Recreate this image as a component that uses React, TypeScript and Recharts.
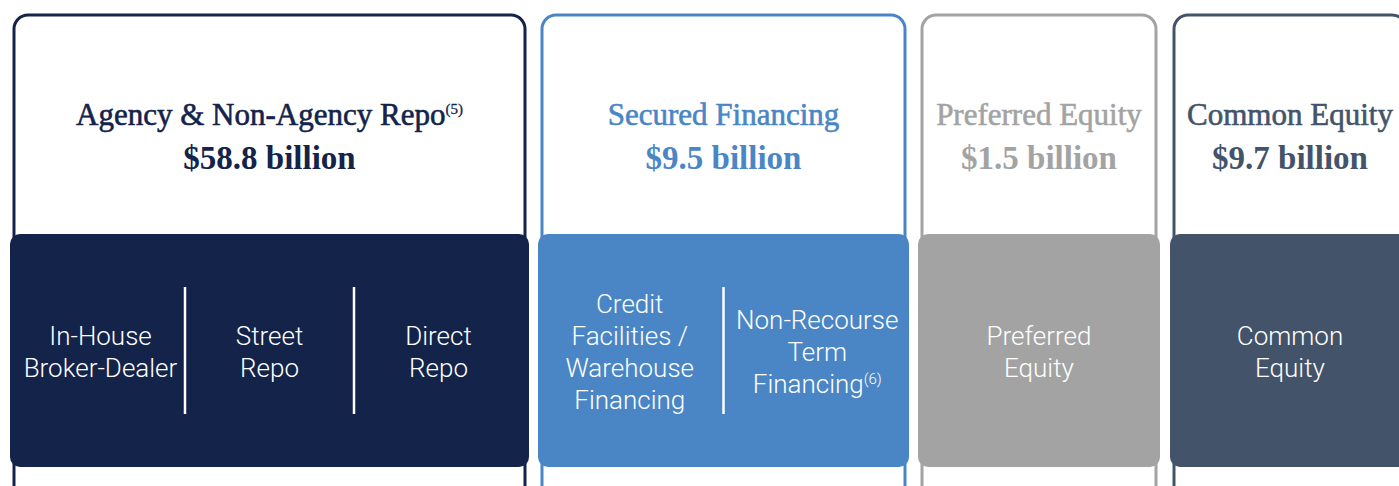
import { ComposedChart, Scatter, XAxis, YAxis } from "recharts";

// funding sources, amounts in $ billions
const segments = [
	"Agency & Non-Agency Repo",
	"Secured Financing",
	"Preferred Equity",
	"Common Equity",
];
const amounts = [58.8, 9.5, 1.5, 9.7];
const segmentNotes = ["(5)", "", "", ""];

// sub-channels shown in each filled box (one entry per line)
const channels: string[][][] = [
	[
		["In-House", "Broker-Dealer"],
		["Street", "Repo"],
		["Direct", "Repo"],
	],
	[
		["Credit", "Facilities /", "Warehouse", "Financing"],
		["Non-Recourse", "Term", "Financing"],
	],
	[["Preferred", "Equity"]],
	[["Common", "Equity"]],
];
const channelNotes: string[][] = [["", "", ""], ["", "(6)"], [""], [""]];

const colors = ["#13234a", "#4a86c5", "#a3a3a3", "#43546a"];

// layout
const W = 1399;
const H = 486;
const panelEdges = [
	[14, 525],
	[542, 905],
	[922, 1156],
	[1174, 1406],
];
const colInset = [6, -2, 0, 0];
const PANEL_TOP = 15;
const BOX_TOP = 234;
const BOX_BOTTOM = 467;
const BOX_OUT = 4;
const LINE_H = 32;

const data = segments.map((name, i) => ({
	idx: i,
	name,
	amount: amounts[i],
	x: (panelEdges[i][0] + panelEdges[i][1]) / 2,
	top: PANEL_TOP,
	w: panelEdges[i][1] - panelEdges[i][0],
}));

const SERIF = "'Liberation Serif', 'Times New Roman', serif";
const SANS = "Roboto, 'Noto Sans', sans-serif";

function Panel(props: any) {
	const { cx, cy, payload } = props;
	if (cx == null || cy == null) return <g />;
	const i = payload.idx;
	const width = payload.w;
	const x = cx - width / 2;
	const y = cy;
	const color = colors[i];
	const bx = x - BOX_OUT;
	const bw = width + BOX_OUT * 2;
	const cols = channels[i];
	const colX = bx + colInset[i];
	const colW = (bw - colInset[i] * 2) / cols.length;
	return (
		<g>
			<rect
				fill="#fff"
				height={H - y + 40}
				rx={14}
				stroke={color}
				strokeWidth={3}
				width={width}
				x={x}
				y={y}
			/>
			<text
				fill={color}
				fontFamily={SERIF}
				fontSize={31}
				stroke={color}
				strokeWidth={0.6}
				textAnchor="middle"
				x={cx}
				y={125}
			>
				{segments[i]}
				{segmentNotes[i] && (
					<tspan dy={-11} fontSize={15} strokeWidth={0.3}>
						{segmentNotes[i]}
					</tspan>
				)}
			</text>
			<text
				fill={color}
				fontFamily={SERIF}
				fontSize={33}
				fontWeight={700}
				textAnchor="middle"
				x={cx}
				y={169}
			>
				{`$${amounts[i]} billion`}
			</text>
			<rect
				fill={color}
				height={BOX_BOTTOM - BOX_TOP}
				rx={10}
				width={bw}
				x={bx}
				y={BOX_TOP}
			/>
			{cols.map((lines, j) => {
				const tx = colX + colW * (j + 0.5);
				const first = 361 - ((lines.length - 1) * LINE_H) / 2;
				return (
					<text
						fill="#fff"
						fontFamily={SANS}
						fontSize={26}
						fontWeight={300}
						key={`t${j}`}
						textAnchor="middle"
					>
						{lines.map((line, k) => (
							<tspan key={k} x={tx} y={first + k * LINE_H}>
								{line}
								{k === lines.length - 1 && channelNotes[i][j] && (
									<tspan dy={-9} fontSize={15}>
										{channelNotes[i][j]}
									</tspan>
								)}
							</tspan>
						))}
					</text>
				);
			})}
			{cols.slice(1).map((_, j) => (
				<line
					key={`d${j}`}
					stroke="#fff"
					strokeWidth={2.5}
					x1={colX + colW * (j + 1)}
					x2={colX + colW * (j + 1)}
					y1={287}
					y2={414}
				/>
			))}
		</g>
	);
}

export default function App() {
	return (
		<div style={{ position: "absolute", left: 0, top: 0, background: "#fff" }}>
			<ComposedChart
				data={data}
				height={H}
				margin={{ top: 0, right: 0, left: 0, bottom: 0 }}
				width={W}
			>
				<XAxis dataKey="x" domain={[0, W]} hide type="number" />
				<YAxis dataKey="top" domain={[0, H]} hide reversed type="number" />
				<Scatter
					dataKey="top"
					isAnimationActive={false}
					shape={Panel}
				/>
			</ComposedChart>
		</div>
	);
}
